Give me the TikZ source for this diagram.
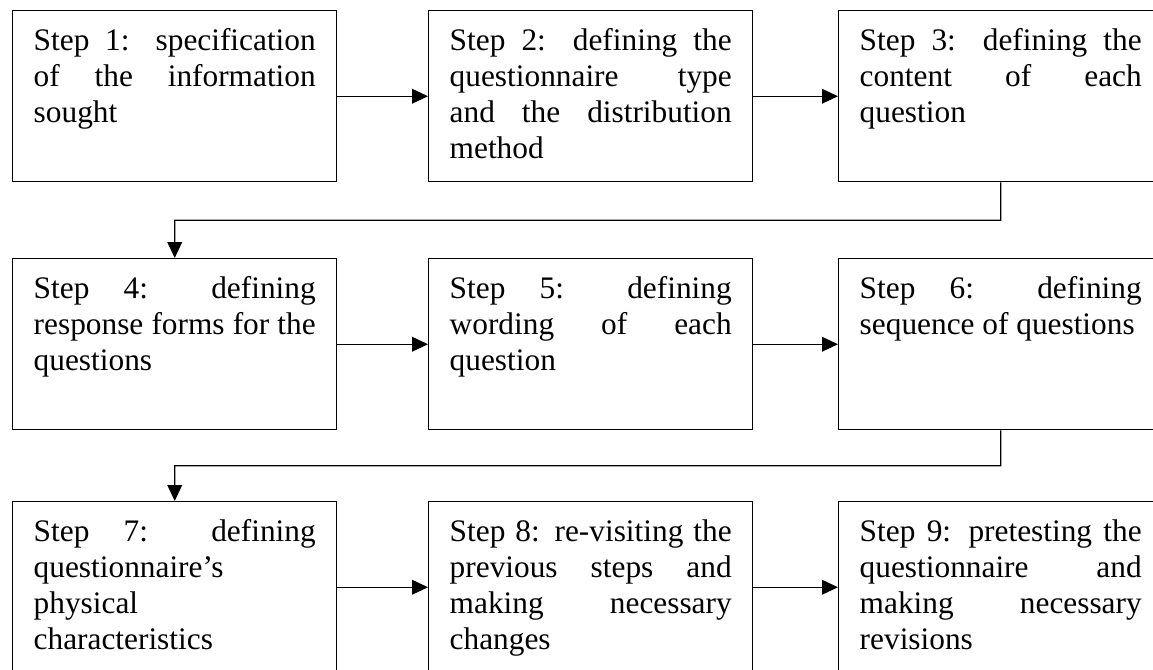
\documentclass[tikz,border=0pt]{standalone}
\usepackage{fontspec}
\setmainfont{Liberation Serif}
\usetikzlibrary{arrows.meta,calc}
\newcommand{\stepfont}{\fontsize{23.5pt}{27pt}\selectfont
  \hyphenpenalty=10000\relax\exhyphenpenalty=10000\relax\tolerance=10000\relax}
\begin{document}
\begin{tikzpicture}[x=0.75pt,y=-0.75pt,
  stepbox/.style={draw, line width=1.1pt, anchor=north west,
    inner xsep=15.75pt, inner ysep=0pt, text width=211.5pt,
    text height=30pt, text depth=98.25pt, align=justify,
    font=\stepfont},
  flow/.style={draw, line width=1.1pt, -{Triangle[length=12pt,width=11pt]}}]
\useasboundingbox (0,0) rectangle (1153,669);
\clip (0,0) rectangle (1153,669);

% first row
\node[stepbox] (s1) at (12,10) {Step 1: specification\linebreak of the information\linebreak sought};
\node[stepbox] (s2) at (428,10) {Step 2: defining the\linebreak questionnaire type\linebreak and the distribution\linebreak method};
\node[stepbox] (s3) at (838,10) {Step 3: defining the\linebreak content of each\linebreak question};

% second row
\node[stepbox] (s4) at (12,258) {Step 4: defining\linebreak response forms for the\linebreak questions};
\node[stepbox] (s5) at (428,258) {Step 5: defining\linebreak wording of each\linebreak question};
\node[stepbox] (s6) at (838,258) {Step 6: defining\linebreak sequence of questions};

% third row
\node[stepbox] (s7) at (12,501) {Step 7: defining\linebreak questionnaire’s\linebreak physical\linebreak characteristics};
\node[stepbox] (s8) at (428,501) {Step 8: re-visiting the\linebreak previous steps and\linebreak making necessary\linebreak changes};
\node[stepbox] (s9) at (838,501) {Step 9: pretesting the\linebreak questionnaire and\linebreak making necessary\linebreak revisions};

% arrows within rows
\draw[flow] (s1.east) -- (s2.west);
\draw[flow] (s2.east) -- (s3.west);
\draw[flow] (s4.east) -- (s5.west);
\draw[flow] (s5.east) -- (s6.west);
\draw[flow] (s7.east) -- (s8.west);
\draw[flow] (s8.east) -- (s9.west);

% elbow connectors between rows
\coordinate (k1) at ($(s3.south)!0.5!(s3.south|-s4.north)$);
\coordinate (k2) at ($(s6.south)!0.5!(s6.south|-s7.north)$);
\draw[flow] (s3.south) -- (k1) -| (s4.north);
\draw[flow] (s6.south) -- (k2) -| (s7.north);
\end{tikzpicture}
\end{document}
